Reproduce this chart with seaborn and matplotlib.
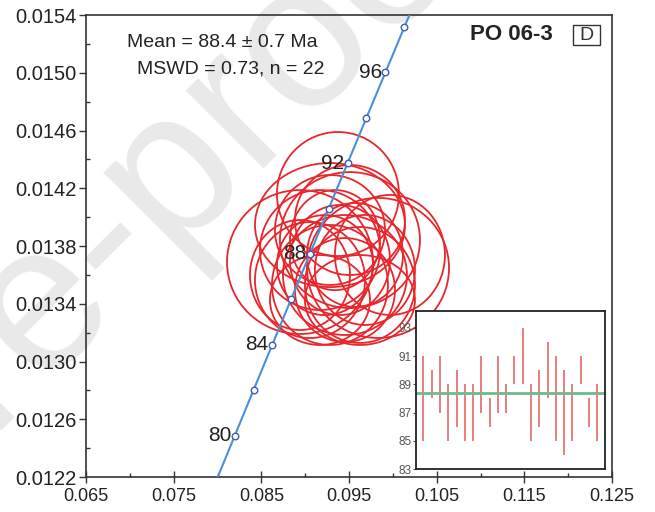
import numpy as np
import pandas as pd
import matplotlib
matplotlib.use("Agg")
import matplotlib.pyplot as plt
import seaborn as sns
from matplotlib.patches import Ellipse, Rectangle
from matplotlib.ticker import MultipleLocator, FormatStrFormatter

# ---------------- data ----------------
# Concordia reference points (age in Ma, 207Pb/235U, 206Pb/238U)
conc_age = [78, 80, 82, 84, 86, 88, 90, 92, 94, 96, 98, 100]
conc_x = [0.079846, 0.081975, 0.084108, 0.086246, 0.088387, 0.090533,
          0.092683, 0.094838, 0.096996, 0.099159, 0.101326, 0.103498]
conc_y = [0.012173, 0.012487, 0.012802, 0.013116, 0.013430, 0.013745,
          0.014059, 0.014374, 0.014689, 0.015003, 0.015318, 0.015633]
marker_ages = [80, 82, 84, 86, 88, 90, 92, 94, 96, 98]
label_ages = [80, 84, 88, 92, 96]

# Error ellipses (centre x, centre y, full width, full height)
ell_x = [0.09374, 0.08941, 0.09831, 0.09283, 0.09511, 0.09169, 0.09454, 0.09283,
         0.09625, 0.09055, 0.09397, 0.09568, 0.09226, 0.09340, 0.09682, 0.08941,
         0.09454, 0.09283, 0.09511, 0.09967, 0.09169, 0.09625]
ell_y = [0.014160, 0.013689, 0.013648, 0.013945, 0.013841, 0.013772, 0.013599, 0.013530,
         0.013530, 0.013564, 0.013703, 0.013738, 0.013668, 0.013841, 0.013634, 0.013599,
         0.013495, 0.013911, 0.013980, 0.013738, 0.013426, 0.013426]
ell_w = [0.01392, 0.01665, 0.01620, 0.01711, 0.01597, 0.01369, 0.01414, 0.01323,
         0.01255, 0.01255, 0.01141, 0.01095, 0.01095, 0.01027, 0.01141, 0.01141,
         0.01141, 0.01255, 0.01255, 0.01255, 0.01141, 0.01255]
ell_h = [0.000859, 0.000997, 0.000970, 0.000859, 0.000942, 0.000831, 0.000831, 0.000831,
         0.000803, 0.000803, 0.000762, 0.000720, 0.000693, 0.000693, 0.000762, 0.000762,
         0.000720, 0.000762, 0.000762, 0.000831, 0.000623, 0.000623]

# Inset: 206Pb/238U ages with 2-sigma bars
grain_no = list(range(1, 23))
age_lo = [85, 88, 87, 85, 86, 85, 85, 87, 86, 87, 87, 89, 89, 85, 86, 88, 85, 84, 85, 89, 86, 85]
age_hi = [91, 90, 91, 89, 90, 89, 89, 91, 88, 91, 89, 91, 93, 89, 90, 92, 91, 90, 89, 91, 88, 89]
mean_age = 88.4

x_ticks = [0.065, 0.075, 0.085, 0.095, 0.105, 0.115, 0.125]
y_ticks = [0.0122, 0.0126, 0.0130, 0.0134, 0.0138, 0.0142, 0.0146, 0.0150, 0.0154]
inset_ticks = [83, 85, 87, 89, 91, 93]

# ---------------- style ----------------
sns.set_theme(style="white")
plt.rcParams['font.family'] = ['Liberation Sans', 'DejaVu Sans']

W, H = 655, 512
fig = plt.figure(figsize=(W / 100, H / 100), dpi=100)
fig.patch.set_facecolor('white')

# watermark
fig.text(-0.168, -0.027, "Pre-proof", rotation=45, rotation_mode='anchor',
         ha='left', va='baseline', fontsize=150, color='#e9e9e9', zorder=-1)

ax = fig.add_axes([86 / W, 35 / H, 526 / W, 462 / H])
ax.set_facecolor('none')

red = '#e8262b'
for x, y, w, h in zip(ell_x, ell_y, ell_w, ell_h):
    ax.add_patch(Ellipse((x, y), w, h, fill=False, ec=red, lw=1.3, zorder=2))

conc = pd.DataFrame({'age': conc_age, 'x': conc_x, 'y': conc_y})
sns.lineplot(data=conc, x='x', y='y', ax=ax, sort=False, color='#4a90d9', lw=1.5, zorder=3)
mk = conc[conc['age'].isin(marker_ages)]
sns.scatterplot(data=mk, x='x', y='y', ax=ax, s=22, color='white', edgecolor='#4058b8',
                linewidth=1.0, zorder=4)
for _, r in conc[conc['age'].isin(label_ages)].iterrows():
    ax.annotate(str(int(r['age'])), (r['x'], r['y']), xytext=(-2.5, 0),
                textcoords='offset points', ha='right', va='center',
                fontsize=15, color='#222222', zorder=5)

ax.set_xlim(0.065, 0.125)
ax.set_ylim(0.0122, 0.0154)
ax.set_xticks(x_ticks)
ax.set_yticks(y_ticks)
ax.xaxis.set_minor_locator(MultipleLocator(0.005))
ax.yaxis.set_minor_locator(MultipleLocator(0.0002))
ax.xaxis.set_major_formatter(FormatStrFormatter('%.3f'))
ax.yaxis.set_major_formatter(FormatStrFormatter('%.4f'))
ax.set_xlabel('')
ax.set_ylabel('')
ax.tick_params(which='both', bottom=True, left=True, top=False, right=False,
               color='#333333', width=1.0, labelcolor='#222222')
ax.tick_params(axis='y', which='major', direction='out', length=5, labelsize=14.5, pad=2)
ax.tick_params(axis='y', which='minor', direction='in', length=3)
ax.tick_params(axis='x', which='major', direction='inout', length=8, labelsize=13, pad=4)
ax.tick_params(axis='x', which='minor', direction='in', length=3)
for s in ax.spines.values():
    s.set_color('#333333')
    s.set_linewidth(1.2)

# annotations
fig.text(222.5 / W, 1 - 47 / H, 'Mean = 88.4 ± 0.7 Ma', ha='center', va='baseline',
         fontsize=14, color='#222222')
fig.text(230.5 / W, 1 - 74 / H, 'MSWD = 0.73, n = 22', ha='center', va='baseline',
         fontsize=14, color='#222222')
fig.text(511.5 / W, 1 - 40 / H, 'PO 06-3', ha='center', va='baseline',
         fontsize=16, fontweight='bold', color='#222222')
fig.patches.append(Rectangle((573 / W, 1 - 45 / H), 27 / W, 20 / H, transform=fig.transFigure,
                             fill=False, ec='#333333', lw=1.0, figure=fig))
fig.text(586.5 / W, 1 - 40 / H, 'D', ha='center', va='baseline', fontsize=14, color='#333333')

# inset
axi = fig.add_axes([416 / W, 43 / H, 189 / W, 158 / H])
axi.set_facecolor('white')
axi.vlines(grain_no, age_lo, age_hi, color='#e35b5b', lw=1.1)
sns.lineplot(x=[0.1, 22.94], y=[mean_age, mean_age], ax=axi, color='#6dbb8a', lw=2)
axi.set_xlim(0.1, 22.94)
axi.set_ylim(83, 94.2)
axi.set_yticks(inset_ticks)
axi.set_xticks([])
axi.tick_params(axis='y', left=True, direction='out', length=2, width=0.8,
                labelsize=8.5, labelcolor='#555555', pad=1, color='#555555')
for s in axi.spines.values():
    s.set_color('#222222')
    s.set_linewidth(1.3)

fig.savefig('out.png', dpi=100)
